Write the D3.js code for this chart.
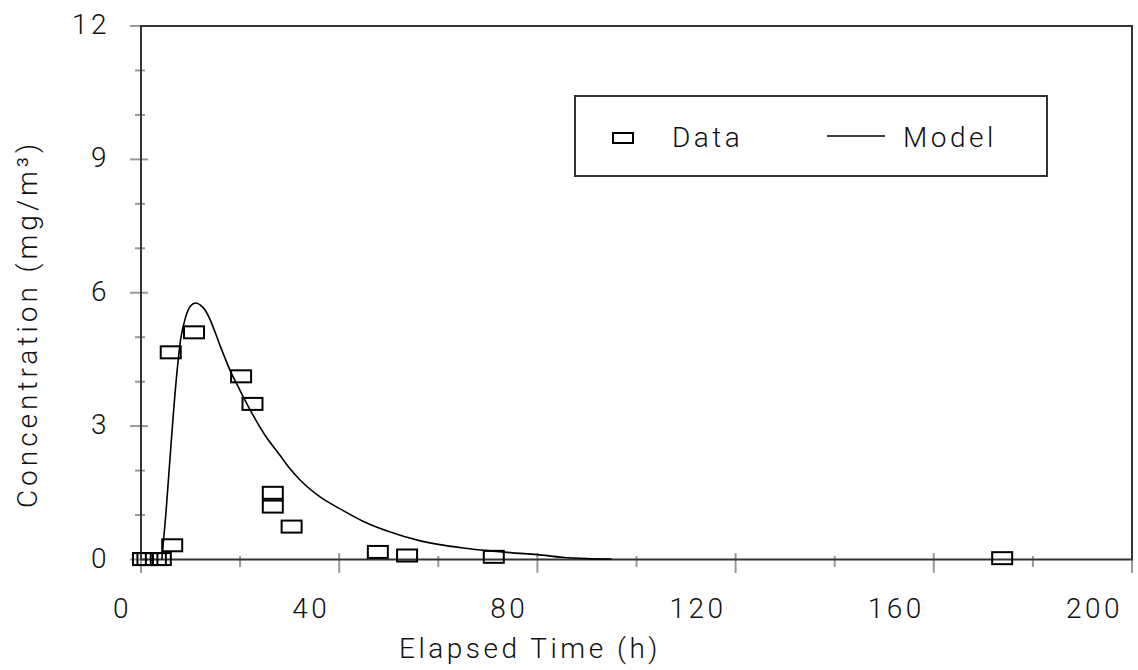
<!DOCTYPE html>
<html>
<head>
<meta charset="utf-8">
<script src="https://cdn.jsdelivr.net/npm/d3@7"></script>
<style>
  body { margin: 0; background: #fff; }
  svg text { font-family: Roboto, "Liberation Sans", Arial, sans-serif; font-weight: 300; font-size: 28px; letter-spacing: 3.5px; fill: #111; }
</style>
</head>
<body>
<div class="content"></div>
<script>

// observed points (elapsed time h, concentration mg/m3)
var dataTime = [0.4, 1.3, 3.0, 4.0, 6.3, 6.0, 10.7, 20.2, 22.5, 26.6, 26.6, 30.4, 47.8, 53.7, 71.2, 173.8];
var dataConc = [0.01, 0.01, 0.01, 0.01, 0.32, 4.66, 5.11, 4.12, 3.50, 1.50, 1.19, 0.74, 0.17, 0.09, 0.06, 0.03];

// model curve
var modelTime = [4.2, 5, 6, 7, 8, 9, 10, 11, 12, 13, 14, 16, 18, 20, 22, 25, 28, 30, 32, 36, 40, 45, 50, 56, 60, 65, 70, 75, 80, 85, 90, 95];
var modelConc = [0, 1.0, 2.5, 3.9, 4.95, 5.45, 5.7, 5.77, 5.72, 5.6, 5.38, 4.8, 4.25, 3.8, 3.37, 2.8, 2.35, 2.05, 1.8, 1.42, 1.15, 0.85, 0.63, 0.43, 0.34, 0.26, 0.2, 0.15, 0.11, 0.05, 0.02, 0.01];

var xMajor = [0, 40, 80, 120, 160, 200];
var xMinor = [20, 60, 100, 140, 180];
var yMajor = [0, 3, 6, 9, 12];
var yMinor = [1, 2, 4, 5, 7, 8, 10, 11];

var svg = d3.select(".content").append("svg")
   .attr("width", 1138)
   .attr("height", 670);

var x = d3.scaleLinear().domain([0, 200]).range([141, 1132]);
var y = d3.scaleLinear().domain([0, 12]).range([559.5, 26]);

// ticks, grey, crossing the axes
svg.selectAll(".ymaj").data(yMajor).enter().append("line")
   .attr("x1", 130).attr("x2", 148)
   .attr("y1", d => y(d)).attr("y2", d => y(d))
   .attr("stroke", "#999").attr("stroke-width", 2);
svg.selectAll(".ymin").data(yMinor).enter().append("line")
   .attr("x1", 135).attr("x2", 145)
   .attr("y1", d => y(d)).attr("y2", d => y(d))
   .attr("stroke", "#999").attr("stroke-width", 2);
svg.selectAll(".xmaj").data(xMajor).enter().append("line")
   .attr("x1", d => x(d)).attr("x2", d => x(d))
   .attr("y1", 553).attr("y2", 573)
   .attr("stroke", "#999").attr("stroke-width", 2);
svg.selectAll(".xmin").data(xMinor).enter().append("line")
   .attr("x1", d => x(d)).attr("x2", d => x(d))
   .attr("y1", 556).attr("y2", 567)
   .attr("stroke", "#999").attr("stroke-width", 2);

// frame
svg.append("rect")
   .attr("x", x(0)).attr("y", y(12))
   .attr("width", x(200) - x(0)).attr("height", y(0) - y(12))
   .attr("fill", "none").attr("stroke", "#333").attr("stroke-width", 2);

// tick labels
svg.selectAll(".xl").data(xMajor).enter().append("text")
   .attr("x", d => x(d) - 9)
   .attr("y", 618)
   .attr("text-anchor", "end")
   .text(d => d);
svg.selectAll(".yl").data(yMajor).enter().append("text")
   .attr("x", 110)
   .attr("y", d => y(d) + 8)
   .attr("text-anchor", "end")
   .text(d => d);

// axis titles
svg.append("text")
   .attr("x", 530).attr("y", 658)
   .attr("text-anchor", "middle")
   .text("Elapsed Time (h)");
svg.append("text")
   .attr("transform", "translate(37,324) rotate(-90)")
   .attr("text-anchor", "middle")
   .style("letter-spacing", "4px")
   .text("Concentration (mg/m³)");

// model line
var line = d3.line()
   .x(d => x(d[0]))
   .y(d => y(d[1]))
   .curve(d3.curveMonotoneX);

svg.append("path")
   .datum(modelTime.map((t, i) => [t, modelConc[i]]))
   .attr("d", line)
   .attr("fill", "none")
   .attr("stroke", "#000")
   .attr("stroke-width", 1.6);

// data markers
svg.selectAll(".pt").data(dataTime.map((t, i) => [t, dataConc[i]])).enter().append("rect")
   .attr("x", d => x(d[0]) - 10)
   .attr("y", d => y(d[1]) - 6)
   .attr("width", 20)
   .attr("height", 12)
   .attr("fill", "none")
   .attr("stroke", "#000")
   .attr("stroke-width", 2);

// legend
var lg = svg.append("g");
lg.append("rect")
   .attr("x", 575).attr("y", 96)
   .attr("width", 472).attr("height", 80)
   .attr("fill", "#fff").attr("stroke", "#333").attr("stroke-width", 2);
lg.append("rect")
   .attr("x", 613).attr("y", 133)
   .attr("width", 20).attr("height", 10)
   .attr("fill", "none").attr("stroke", "#000").attr("stroke-width", 2);
lg.append("text").attr("x", 672).attr("y", 147).text("Data");
lg.append("line")
   .attr("x1", 827).attr("x2", 885)
   .attr("y1", 136).attr("y2", 136)
   .attr("stroke", "#000").attr("stroke-width", 1.6);
lg.append("text").attr("x", 903).attr("y", 147).text("Model");

</script>
</body>
</html>
